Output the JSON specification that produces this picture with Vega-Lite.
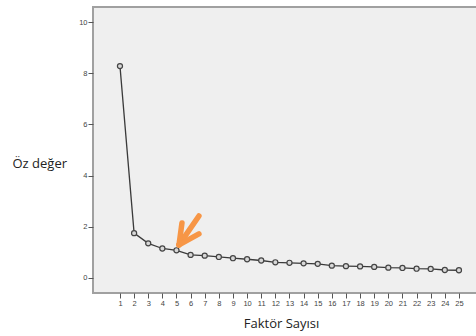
{
  "$schema": "https://vega.github.io/schema/vega-lite/v6.json",
  "width": 386,
  "height": 286,
  "autosize": {"type": "none"},
  "padding": {"left": 93, "top": 7, "right": 0, "bottom": 43},
  "background": "white",
  "config": {
    "view": {"fill": "#EFEFEF", "stroke": "#A0A0A0", "strokeWidth": 2},
    "font": "Open Sans",
    "axis": {"labelOverlap": false}
  },
  "datasets": {
    "eig": [
      {"factor": 1, "value": 8.28}, {"factor": 2, "value": 1.75}, {"factor": 3, "value": 1.35},
      {"factor": 4, "value": 1.15}, {"factor": 5, "value": 1.08}, {"factor": 6, "value": 0.9},
      {"factor": 7, "value": 0.87}, {"factor": 8, "value": 0.82}, {"factor": 9, "value": 0.77},
      {"factor": 10, "value": 0.73}, {"factor": 11, "value": 0.68}, {"factor": 12, "value": 0.61},
      {"factor": 13, "value": 0.59}, {"factor": 14, "value": 0.57}, {"factor": 15, "value": 0.55},
      {"factor": 16, "value": 0.48}, {"factor": 17, "value": 0.46}, {"factor": 18, "value": 0.45},
      {"factor": 19, "value": 0.43}, {"factor": 20, "value": 0.4}, {"factor": 21, "value": 0.39},
      {"factor": 22, "value": 0.36}, {"factor": 23, "value": 0.35}, {"factor": 24, "value": 0.31},
      {"factor": 25, "value": 0.3}
    ],
    "arrow": [
      {"factor": 5.18, "value": 1.29, "x2": 6.59, "y2": 2.42},
      {"factor": 5.18, "value": 1.29, "x2": 5.39, "y2": 2.15},
      {"factor": 5.18, "value": 1.29, "x2": 6.59, "y2": 1.72}
    ]
  },
  "encoding": {
    "x": {
      "field": "factor", "type": "quantitative",
      "scale": {"domain": [-0.91, 26.42], "nice": false, "zero": false},
      "axis": {
        "values": [1,2,3,4,5,6,7,8,9,10,11,12,13,14,15,16,17,18,19,20,21,22,23,24,25],
        "labelOverlap": false, "labelBound": false,
        "grid": false, "domain": false, "tickColor": "#555", "tickSize": 5, "tickWidth": 1,
        "labelFontSize": 7.5, "labelColor": "#444", "labelPadding": 1, "labelFont": "Liberation Sans",
        "title": "Faktör Sayısı", "titleFontSize": 13, "titleFontWeight": "normal", "titleColor": "#222",
        "titleFont": "Open Sans", "titleX": 188, "titleY": 30, "titleBaseline": "middle", "titleAnchor": null
      }
    },
    "y": {
      "field": "value", "type": "quantitative",
      "scale": {"domain": [-0.59, 10.59], "nice": false, "zero": false},
      "axis": {
        "values": [0, 2, 4, 6, 8, 10],
        "labelOverlap": false,
        "grid": false, "domain": false, "tickColor": "#555", "tickSize": 5, "tickWidth": 1,
        "labelFontSize": 7.5, "labelColor": "#444", "labelPadding": 1, "labelFont": "Liberation Sans",
        "title": "Öz değer", "titleFontSize": 13, "titleFontWeight": "normal", "titleColor": "#222",
        "titleFont": "Open Sans", "titleAngle": 0, "titleAlign": "left", "titleBaseline": "middle",
        "titleX": -81, "titleY": 156
      }
    }
  },
  "layer": [
    {
      "data": {"name": "eig"},
      "mark": {"type": "line", "color": "#3A3A3A", "strokeWidth": 1.3}
    },
    {
      "data": {"name": "eig"},
      "mark": {"type": "point", "shape": "circle", "filled": false, "size": 26, "stroke": "#444", "fill": "#D8D8D8", "fillOpacity": 1, "strokeWidth": 1.2}
    },
    {
      "data": {"name": "arrow"},
      "mark": {"type": "rule", "color": "#F79646", "strokeWidth": 5.5, "strokeCap": "round"},
      "encoding": {
        "x2": {"field": "x2"},
        "y2": {"field": "y2"}
      }
    }
  ]
}
